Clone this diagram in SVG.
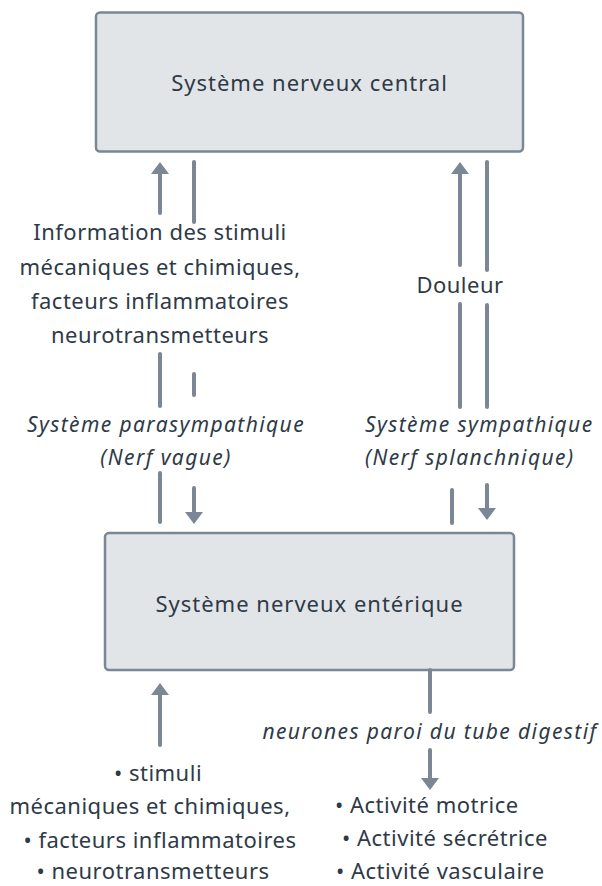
<svg xmlns="http://www.w3.org/2000/svg" width="602" height="886" viewBox="0 0 602 886">
<style>
.box{fill:#e2e5e8;stroke:#7b8794;stroke-width:2.5}
.ln{fill:none;stroke:#7b8794;stroke-width:4;stroke-linecap:round}
.t{font-family:"Noto Sans","Open Sans",sans-serif;font-size:22px;fill:#2e3a47;letter-spacing:0.5px}
.h{letter-spacing:1px}
.i{font-family:"Noto Sans","Open Sans",sans-serif;font-size:21px;font-style:italic;fill:#2e3a47;letter-spacing:1.4px}
.m{text-anchor:middle}
</style>
<defs>
<marker id="ah" viewBox="0 0 12 18" refX="0" refY="9" markerWidth="12" markerHeight="18" markerUnits="userSpaceOnUse" orient="auto">
<path d="M0,0 L12,9 L0,18 z" fill="#7b8794"/>
</marker>
</defs>
<g id="snc">
<rect class="box" x="96" y="12.5" width="427" height="139" rx="4"/>
<text class="t h m" x="309.5" y="91">Système nerveux central</text>
</g>
<g id="sne">
<rect class="box" x="105" y="533" width="409" height="137" rx="4"/>
<text class="t h m" x="309.5" y="612">Système nerveux entérique</text>
</g>
<g id="connectors">
<path class="ln" d="M160,213 V174" marker-end="url(#ah)"/>
<path class="ln" d="M194,162 V222"/>
<path class="ln" d="M160,354 V406"/>
<path class="ln" d="M194,374 V395"/>
<path class="ln" d="M160,473 V522"/>
<path class="ln" d="M194,488 V512" marker-end="url(#ah)"/>
<path class="ln" d="M460,265 V174" marker-end="url(#ah)"/>
<path class="ln" d="M487,162 V270"/>
<path class="ln" d="M460,304 V407"/>
<path class="ln" d="M487,305 V407"/>
<path class="ln" d="M452,490 V523"/>
<path class="ln" d="M487,485 V508" marker-end="url(#ah)"/>
<path class="ln" d="M160,745 V695" marker-end="url(#ah)"/>
<path class="ln" d="M430,670 V712"/>
<path class="ln" d="M430,750 V778" marker-end="url(#ah)"/>
</g>
<g id="labels">
<text class="t m" x="160" y="240">Information des stimuli</text>
<text class="t m" x="160" y="274.5">mécaniques et chimiques,</text>
<text class="t m" x="160" y="309">facteurs inflammatoires</text>
<text class="t m" x="160" y="343">neurotransmetteurs</text>
<text class="t m" x="460" y="293">Douleur</text>
<text class="i m" x="166" y="432">Système parasympathique</text>
<text class="i m" x="166" y="465">(Nerf vague)</text>
<text class="i" x="365" y="432">Système sympathique</text>
<text class="i" x="365" y="465">(Nerf splanchnique)</text>
<text class="i m" x="430" y="739">neurones paroi du tube digestif</text>
<text class="t m" x="158" y="781">• stimuli</text>
<text class="t m" x="150" y="814">mécaniques et chimiques,</text>
<text class="t m" x="160" y="848">• facteurs inflammatoires</text>
<text class="t m" x="153" y="879">• neurotransmetteurs</text>
<text class="t" x="335" y="813">• Activité motrice</text>
<text class="t" x="342" y="846">• Activité sécrétrice</text>
<text class="t" x="336" y="879">• Activité vasculaire</text>
</g>
</svg>
